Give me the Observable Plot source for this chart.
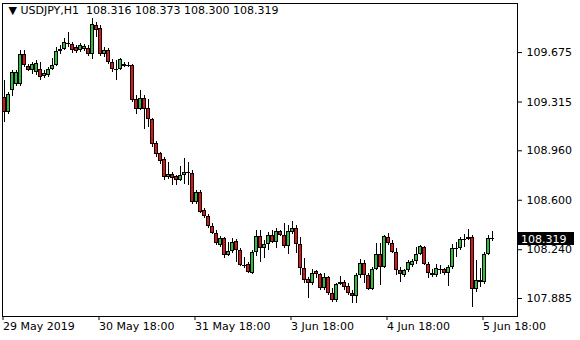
<!DOCTYPE html>
<html>
<head>
<meta charset="utf-8">
<script src="https://cdn.jsdelivr.net/npm/d3@7"></script>
<script src="https://cdn.jsdelivr.net/npm/@observablehq/plot@0.6"></script>
<style>
  html, body { margin: 0; padding: 0; background: #fff; }
  #chart svg { display: block; }
</style>
</head>
<body>
<div id="chart"></div>
<script>
// USDJPY H1 bars (from 29 May 2019 18:00)
const open = [109.347,109.238,109.398,109.442,109.442,109.660,109.573,109.544,109.529,109.551,
  109.500,109.507,109.551,109.580,109.682,109.696,109.740,109.733,109.711,109.689,
  109.696,109.704,109.660,109.871,109.849,109.660,109.689,109.602,109.551,109.551,
  109.573,109.580,109.580,109.333,109.260,109.340,109.267,109.187,109.012,108.940,
  108.896,108.765,108.787,108.772,108.743,108.779,108.801,108.794,108.583,108.656,
  108.525,108.481,108.408,108.357,108.270,108.321,108.197,108.226,108.299,108.233,
  108.124,108.132,108.066,108.219,108.335,108.248,108.277,108.343,108.292,108.372,
  108.343,108.263,108.365,108.394,108.277,108.103,108.022,107.993,108.081,108.059,
  107.957,108.037,107.921,107.870,107.986,108.001,107.972,107.921,107.899,108.052,
  108.139,108.052,107.950,108.095,108.204,108.110,108.328,108.284,108.219,108.088,
  108.052,108.088,108.124,108.153,108.204,108.255,108.132,108.066,108.052,108.095,
  108.095,108.066,108.110,108.248,108.248,108.314,108.314,108.328,107.950,108.001,
  108.001,108.204,108.316];
const high = [109.471,109.383,109.544,109.544,109.689,109.689,109.587,109.602,109.616,109.602,
  109.544,109.565,109.631,109.711,109.726,109.776,109.820,109.747,109.726,109.740,
  109.733,109.726,109.922,109.893,109.871,109.711,109.704,109.624,109.616,109.631,
  109.602,109.602,109.587,109.362,109.398,109.362,109.333,109.194,109.027,108.947,
  108.910,108.874,108.801,108.779,108.845,108.903,108.874,108.816,108.670,108.670,
  108.539,108.496,108.430,108.379,108.335,108.328,108.292,108.321,108.314,108.248,
  108.183,108.146,108.233,108.379,108.379,108.306,108.365,108.379,108.394,108.379,
  108.430,108.415,108.445,108.415,108.328,108.175,108.037,108.095,108.088,108.066,
  108.066,108.044,107.957,107.993,108.044,108.015,107.993,107.942,108.066,108.168,
  108.161,108.066,108.110,108.284,108.284,108.343,108.357,108.306,108.248,108.110,
  108.095,108.161,108.168,108.255,108.270,108.263,108.146,108.095,108.132,108.124,
  108.103,108.124,108.277,108.292,108.328,108.350,108.386,108.343,108.161,108.103,
  108.219,108.343,108.373];
const low = [109.165,109.223,109.354,109.427,109.427,109.565,109.536,109.514,109.507,109.471,
  109.485,109.493,109.544,109.573,109.660,109.689,109.711,109.667,109.667,109.675,
  109.682,109.645,109.624,109.784,109.645,109.638,109.587,109.529,109.471,109.544,
  109.565,109.565,109.311,109.223,109.252,109.114,109.129,108.983,108.910,108.859,
  108.743,108.750,108.707,108.707,108.736,108.714,108.707,108.568,108.568,108.503,
  108.466,108.394,108.350,108.270,108.255,108.175,108.190,108.212,108.146,108.117,
  108.103,108.066,108.059,108.190,108.146,108.175,108.233,108.284,108.248,108.335,
  108.248,108.204,108.350,108.212,108.052,107.993,107.884,107.979,108.030,107.942,
  107.942,107.906,107.855,107.855,107.979,107.942,107.906,107.848,107.848,108.030,
  107.993,107.942,107.942,108.088,107.979,108.103,108.270,108.212,108.052,108.001,
  108.037,108.073,108.110,108.132,108.197,108.124,108.030,108.037,108.037,108.059,
  108.052,107.972,108.095,108.183,108.233,108.255,108.306,107.819,107.928,107.964,
  107.986,108.197,108.300];
const close = [109.238,109.369,109.529,109.529,109.660,109.580,109.544,109.587,109.595,109.493,
  109.522,109.551,109.580,109.682,109.696,109.747,109.733,109.689,109.682,109.726,
  109.718,109.660,109.878,109.835,109.660,109.689,109.602,109.551,109.544,109.624,
  109.587,109.581,109.325,109.260,109.340,109.260,109.187,109.005,108.932,108.881,
  108.765,108.787,108.758,108.743,108.779,108.801,108.800,108.583,108.656,108.510,
  108.481,108.408,108.357,108.284,108.321,108.197,108.226,108.292,108.233,108.124,
  108.125,108.073,108.219,108.335,108.248,108.277,108.343,108.292,108.372,108.343,
  108.263,108.372,108.394,108.277,108.103,108.015,107.993,108.066,108.059,107.957,
  108.037,107.921,107.870,107.986,108.001,107.964,107.921,107.899,108.052,108.139,
  108.052,107.950,108.095,108.204,108.110,108.335,108.284,108.219,108.088,108.059,
  108.088,108.146,108.153,108.204,108.263,108.132,108.066,108.052,108.103,108.096,
  108.066,108.110,108.248,108.249,108.314,108.315,108.328,107.950,108.015,108.015,
  108.204,108.321,108.319];

const tickIndex = [0, 24, 48, 72, 96, 120];
const tickLabels = ["29 May 2019", "30 May 18:00", "31 May 18:00", "3 Jun 18:00", "4 Jun 18:00", "5 Jun 18:00"];
const priceTicks = [109.675, 109.315, 108.960, 108.600, 108.240, 107.885];
const headerText = ["\u25BC USDJPY,H1\u00A0\u00A0108.316 108.373 108.300 108.319"];
const lastPrice = 108.319;

const bars = close.map((c, i) => ({i, o: open[i], h: high[i], l: low[i], c}));
const up = bars.filter(d => d.c > d.o);
const down = bars.filter(d => d.c < d.o);

const green = "#2ec03c";
const red = "#e01414";
const WL = 0.375, WR = 0.625;

const chart = Plot.plot({
  width: 580,
  height: 340,
  marginLeft: 2,
  marginRight: 63,
  marginTop: 3,
  marginBottom: 24,
  style: {fontFamily: "DejaVu Sans, sans-serif", fontSize: "11px", color: "#000", background: "#fff"},
  x: {type: "linear", domain: [-0.375, 128.375]},
  y: {domain: [107.754, 110.032]},
  marks: [
    Plot.ruleX(bars, {x: "i", y1: "l", y2: "h", stroke: "#000", strokeWidth: 1, shapeRendering: "crispEdges"}),
    // body outline (black) then coloured interior inset by 1px
    Plot.rect(bars.filter(d => d.c !== d.o), {x1: d => d.i - WL, x2: d => d.i + WR, y1: "o", y2: "c", fill: "#000", shapeRendering: "crispEdges"}),
    Plot.rect(up, {x1: d => d.i - WL, x2: d => d.i + WR, y1: "o", y2: "c", fill: green, inset: 1, shapeRendering: "crispEdges"}),
    Plot.rect(down, {x1: d => d.i - WL, x2: d => d.i + WR, y1: "o", y2: "c", fill: red, inset: 1, shapeRendering: "crispEdges"}),
    Plot.ruleY(bars.filter(d => Math.abs(d.c - d.o) < 0.004), {y: "c", x1: d => d.i - WL, x2: d => d.i + WR, stroke: "#000", shapeRendering: "crispEdges"}),
    Plot.frame({stroke: "#000", shapeRendering: "crispEdges"}),
    Plot.axisY(priceTicks, {anchor: "right", label: null, tickSize: 4, tickPadding: 5, tickFormat: d => d.toFixed(3), fontSize: 11}),
    Plot.axisX(tickIndex, {anchor: "bottom", label: null, tickSize: 4, tickPadding: 2, tickFormat: d => tickLabels[tickIndex.indexOf(d)], textAnchor: "start", dx: -1, fontSize: 11}),
    Plot.text(headerText, {frameAnchor: "top-left", dx: 6, dy: 3, textAnchor: "start", lineAnchor: "top", fill: "#000", fontSize: 11})
  ]
});
document.getElementById("chart").appendChild(chart);

// current price marker on the right scale
const svg = d3.select(chart);
const yy = Math.round(chart.scale("y").apply(lastPrice));
const g = svg.append("g");
g.append("rect").attr("x", 517).attr("y", yy - 6).attr("width", 57).attr("height", 13).attr("fill", "#000");
g.append("text").attr("x", 521).attr("y", yy + 4.5).attr("fill", "#fff").attr("text-anchor", "start")
  .attr("font-family", "DejaVu Sans, sans-serif").attr("font-size", 11).text(lastPrice.toFixed(3));
</script>
</body>
</html>
